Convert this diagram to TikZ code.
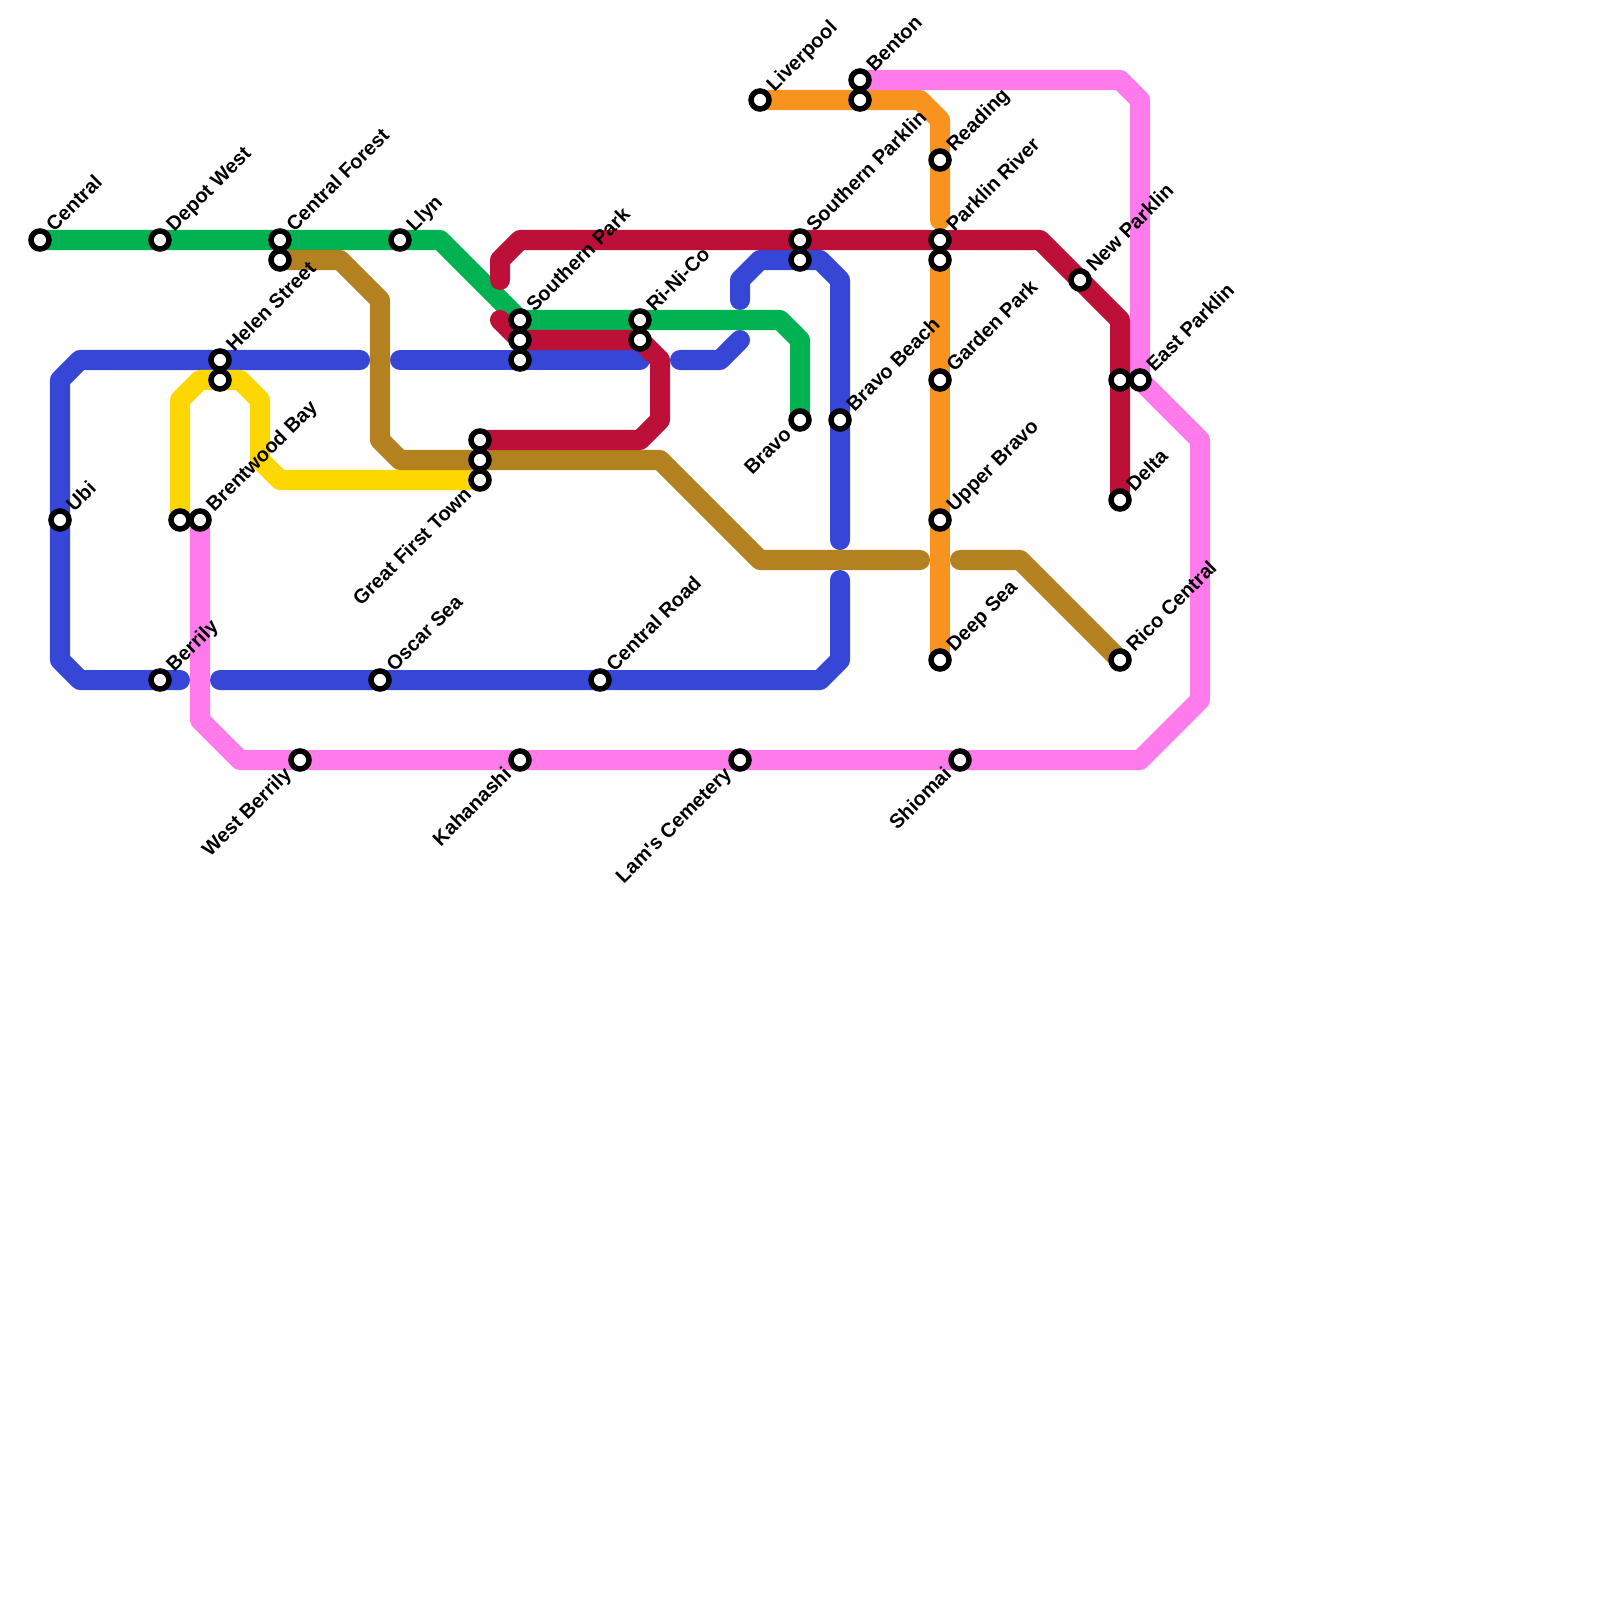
\documentclass[tikz,border=0pt]{standalone}
\usepackage{fontspec}
\newfontfamily\namefont{Liberation Sans}
\usepackage{tikz}
\usetikzlibrary{backgrounds}
\definecolor{linegreen}{HTML}{00B251}
\definecolor{lineblue}{HTML}{3646D6}
\definecolor{linered}{HTML}{BD1038}
\definecolor{linebrown}{HTML}{B38120}
\definecolor{lineyellow}{HTML}{FFD700}
\definecolor{linepink}{HTML}{FF7AEB}
\definecolor{lineorange}{HTML}{F7931E}
\tikzset{
  station/.style={
    circle, draw=black, fill=white,
    line width=0.055cm,
    minimum size=0.18cm,
    outer sep=0pt,
    inner sep=0pt
  },
  % Etichette inclinate
  namene/.style={rotate=45, anchor=base west, font=\fontsize{5.69pt}{7pt}\namefont\bfseries, inner sep=0pt},
  namesw/.style={rotate=45, anchor=base east, font=\fontsize{5.69pt}{7pt}\namefont\bfseries, inner sep=0pt},
  metro/.style={line width=0.2cm, line cap=round, line join=round}
}

\begin{document}
\begin{tikzpicture}[x=0.01cm, y=-0.01cm]
\useasboundingbox (0,0) rectangle (1600,1600);

% Stazioni
\node[station] (central) at (40,240) {};
\node[station] (depotwest) at (160,240) {};
\node[station] (centralforest) at (280,240) {};
\node[station] (centralforest2) at (280,260) {};
\node[station] (llyn) at (400,240) {};
\node[station] (helenstreet) at (220,360) {};
\node[station] (helenstreet2) at (220,380) {};
\node[station] (ubi) at (60,520) {};
\node[station] (brentwood) at (200,520) {};
\node[station] (brentwood2) at (180,520) {};
\node[station] (berrily) at (160,680) {};
\node[station] (oscarsea) at (380,680) {};
\node[station] (centralroad) at (600,680) {};
\node[station] (firsttown) at (480,480) {};
\node[station] (firsttown2) at (480,460) {};
\node[station] (firsttown3) at (480,440) {};
\node[station] (southernpark) at (520,320) {};
\node[station] (southernpark2) at (520,340) {};
\node[station] (southernpark3) at (520,360) {};
\node[station] (rinico) at (640,320) {};
\node[station] (rinico2) at (640,340) {};
\node[station] (bravo) at (800,420) {};
\node[station] (parklin) at (800,240) {};
\node[station] (parklin2) at (800,260) {};
\node[station] (bravobeach) at (840,420) {};
\node[station] (liverpool) at (760,100) {};
\node[station] (benton) at (860,80) {};
\node[station] (benton2) at (860,100) {};
\node[station] (reading) at (940,160) {};
\node[station] (parklinriver) at (940,240) {};
\node[station] (parklinriver2) at (940,260) {};
\node[station] (gardenpark) at (940,380) {};
\node[station] (upperbravo) at (940,520) {};
\node[station] (deepsea) at (940,660) {};
\node[station] (newparklin) at (1080,280) {};
\node[station] (eastparklin) at (1140,380) {};
\node[station] (eastparklin2) at (1120,380) {};
\node[station] (delta) at (1120,500) {};
\node[station] (ricocentral) at (1120,660) {};
\node[station] (westberrily) at (300,760) {};
\node[station] (kahanashi) at (520,760) {};
\node[station] (lams) at (740,760) {};
\node[station] (shiomai) at (960,760) {};

% Nomi delle stazioni
\node[namene] (lblcentral) at (54,233) {Central};
\node[namene] (lbldepotwest) at (174,233) {Depot West};
\node[namene] (lblcentralforest) at (294,233) {Central Forest};
\node[namene] (lblllyn) at (414,233) {Llyn};
\node[namene] (lblhelenstreet) at (234,353) {Helen Street};
\node[namene] (lblubi) at (74,513) {Ubi};
\node[namene] (lblbrentwood) at (214,513) {Brentwood Bay};
\node[namene] (lblberrily) at (174,673) {Berrily};
\node[namene] (lbloscarsea) at (394,673) {Oscar Sea};
\node[namene] (lblcentralroad) at (614,673) {Central Road};
\node[namene] (lblsouthernpark) at (534,313) {Southern Park};
\node[namene] (lblrinico) at (654,313) {Ri-Ni-Co};
\node[namene] (lblparklin) at (814,233) {Southern Parklin};
\node[namene] (lblbravobeach) at (854,413) {Bravo Beach};
\node[namene] (lblliverpool) at (774,93) {Liverpool};
\node[namene] (lblbenton) at (874,73) {Benton};
\node[namene] (lblreading) at (954,153) {Reading};
\node[namene] (lblparklinriver) at (954,233) {Parklin River};
\node[namene] (lblgardenpark) at (954,373) {Garden Park};
\node[namene] (lblupperbravo) at (954,513) {Upper Bravo};
\node[namene] (lbldeepsea) at (954,653) {Deep Sea};
\node[namene] (lblnewparklin) at (1094,273) {New Parklin};
\node[namene] (lbleastparklin) at (1154,373) {East Parklin};
\node[namene] (lbldelta) at (1134,493) {Delta};
\node[namene] (lblricocentral) at (1134,653) {Rico Central};
\node[namesw] (lblfirsttown) at (473,495) {Great First Town};
\node[namesw] (lblbravo) at (793,435) {Bravo};
\node[namesw] (lblwestberrily) at (293,775) {West Berrily};
\node[namesw] (lblkahanashi) at (513,775) {Kahanashi};
\node[namesw] (lbllams) at (733,775) {Lam's Cemetery};
\node[namesw] (lblshiomai) at (953,775) {Shiomai};

% Punti di svolta
\coordinate (g1) at (440,240);
\coordinate (g2) at (780,320);
\coordinate (g3) at (800,340);
\coordinate (bn1) at (340,260);
\coordinate (bn2) at (380,300);
\coordinate (bn3) at (380,440);
\coordinate (bn4) at (400,460);
\coordinate (bn5) at (660,460);
\coordinate (bn6) at (760,560);
\coordinate (bn7) at (920,560);
\coordinate (bn8) at (960,560);
\coordinate (bn9) at (1020,560);
\coordinate (bl1) at (360,360);
\coordinate (bl2) at (80,360);
\coordinate (bl3) at (60,380);
\coordinate (bl4) at (60,660);
\coordinate (bl5) at (80,680);
\coordinate (bl6) at (180,680);
\coordinate (bl7) at (220,680);
\coordinate (bl8) at (820,680);
\coordinate (bl9) at (840,660);
\coordinate (bl10) at (840,580);
\coordinate (bl11) at (840,540);
\coordinate (bl12) at (840,280);
\coordinate (bl13) at (820,260);
\coordinate (bl14) at (760,260);
\coordinate (bl15) at (740,280);
\coordinate (bl16) at (740,300);
\coordinate (bl17) at (740,340);
\coordinate (bl18) at (720,360);
\coordinate (bl19) at (680,360);
\coordinate (bl20) at (640,360);
\coordinate (bl21) at (400,360);
\coordinate (r1) at (500,280);
\coordinate (r2) at (500,260);
\coordinate (r3) at (520,240);
\coordinate (r4) at (1040,240);
\coordinate (r5) at (1120,320);
\coordinate (r6) at (640,440);
\coordinate (r7) at (660,420);
\coordinate (r8) at (660,360);
\coordinate (r9) at (500,320);
\coordinate (o1) at (920,100);
\coordinate (o2) at (940,120);
\coordinate (o3) at (940,220);
\coordinate (y1) at (180,400);
\coordinate (y2) at (200,380);
\coordinate (y3) at (240,380);
\coordinate (y4) at (260,400);
\coordinate (y5) at (260,460);
\coordinate (y6) at (280,480);
\coordinate (p1) at (1120,80);
\coordinate (p2) at (1140,100);
\coordinate (p3) at (1200,440);
\coordinate (p4) at (1200,700);
\coordinate (p5) at (1140,760);
\coordinate (p6) at (240,760);
\coordinate (p7) at (200,720);

% Linee
\begin{scope}[on background layer]
\draw[metro, lineblue] (bl1) -- (helenstreet.center) -- (bl2) -- (bl3) -- (ubi.center) -- (bl4) -- (bl5) -- (berrily.center) -- (bl6);
\draw[metro, lineblue] (bl7) -- (oscarsea.center) -- (centralroad.center) -- (bl8) -- (bl9) -- (bl10);
\draw[metro, lineblue] (bl11) -- (bravobeach.center) -- (bl12) -- (bl13) -- (parklin2.center) -- (bl14) -- (bl15) -- (bl16);
\draw[metro, lineblue] (bl17) -- (bl18) -- (bl19);
\draw[metro, lineblue] (bl20) -- (southernpark3.center) -- (bl21);
\draw[metro, linegreen] (central.center) -- (depotwest.center) -- (centralforest.center) -- (llyn.center) -- (g1) -- (southernpark.center) -- (rinico.center) -- (g2) -- (g3) -- (bravo.center);
\draw[metro, lineyellow] (brentwood2.center) -- (y1) -- (y2) -- (helenstreet2.center) -- (y3) -- (y4) -- (y5) -- (y6) -- (firsttown.center);
\draw[metro, linebrown] (centralforest2.center) -- (bn1) -- (bn2) -- (bn3) -- (bn4) -- (firsttown2.center) -- (bn5) -- (bn6) -- (bn7);
\draw[metro, linebrown] (bn8) -- (bn9) -- (ricocentral.center);
\draw[metro, lineorange] (liverpool.center) -- (benton2.center) -- (o1) -- (o2) -- (reading.center) -- (o3);
\draw[metro, lineorange] (parklinriver2.center) -- (gardenpark.center) -- (upperbravo.center) -- (deepsea.center);
\draw[metro, linepink] (benton.center) -- (p1) -- (p2) -- (eastparklin.center) -- (p3) -- (p4) -- (p5) -- (shiomai.center) -- (lams.center) -- (kahanashi.center) -- (westberrily.center) -- (p6) -- (p7) -- (brentwood.center);
\draw[metro, linered] (r1) -- (r2) -- (r3) -- (parklin.center) -- (parklinriver.center) -- (r4) -- (newparklin.center) -- (r5) -- (eastparklin2.center) -- (delta.center);
\draw[metro, linered] (firsttown3.center) -- (r6) -- (r7) -- (r8) -- (rinico2.center) -- (southernpark2.center) -- (r9);
\end{scope}

\end{tikzpicture}
\end{document}
